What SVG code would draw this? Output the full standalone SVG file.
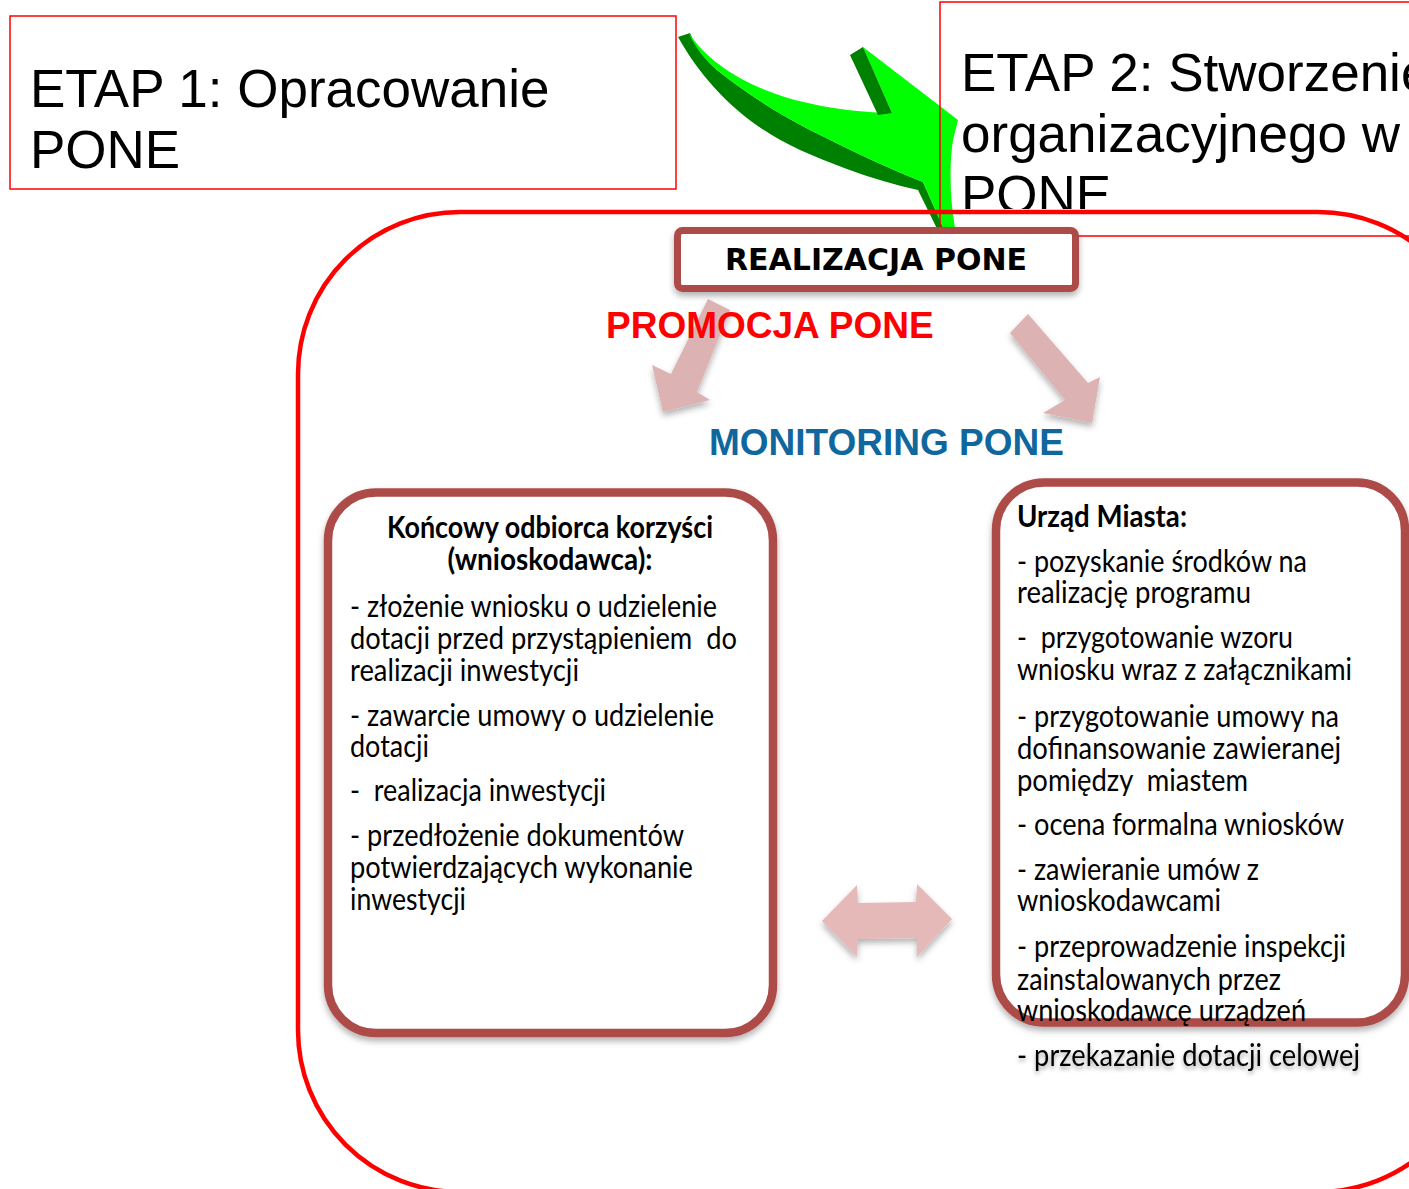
<svg xmlns="http://www.w3.org/2000/svg" width="1409" height="1189" viewBox="0 0 1409 1189">
<style>
.etap{font-family:"Liberation Sans",Arial,sans-serif;font-size:53px;fill:#000}
.body{font-family:Lato,"Open Sans",sans-serif;font-size:30px;fill:#000}
.bold{font-weight:bold}
.box{fill:#fff;stroke:#AD4B48;stroke-width:8.5}
.pink{fill:#DDB2B2}
</style>
<defs>
<filter id="sh" x="-10%" y="-10%" width="120%" height="130%">
<feDropShadow dx="0" dy="4" stdDeviation="3" flood-color="#000" flood-opacity="0.3"/>
</filter>
<filter id="tsh" x="-5%" y="-30%" width="110%" height="170%">
<feDropShadow dx="0" dy="3" stdDeviation="2" flood-color="#000" flood-opacity="0.35"/>
</filter>
<clipPath id="etap2clip"><rect x="940" y="0" width="469" height="209"/></clipPath>
</defs>
<rect width="1409" height="1189" fill="#fff"/>

<g id="etap1">
<rect x="10" y="16" width="666" height="173" fill="none" stroke="#FF0000" stroke-width="1.5"/>
<text class="etap" x="30" y="107">ETAP 1: Opracowanie</text>
<text class="etap" x="30" y="168">PONE</text>
</g>

<g id="connectors">
<g id="green-arrow">
<path fill="#008000" d="M678,37 C705,85 745,125 800,150 C840,168 885,183 918,190 L945,245 L952,245 L942,225 L923,182 C880,165 840,145 810,130 C775,112 745,92 717,70 C705,60 696,47 690,33 Z"/>
<path fill="#00FF00" d="M688,32 C720,80 790,110 892,113 L863,47 L958,120 L953,140 C949,165 950,200 955,228 L950,245 L942,225 L923,182 C880,165 840,145 810,130 C775,112 745,92 717,70 C705,60 695,47 688,32 Z"/>
<path fill="#008000" d="M850,55 L863,47 L892,113 L878,115 Z"/>
</g>
<polygon class="pink" filter="url(#sh)" points="708,299 730,310 697,392 710,400 663,412 652,365 671,374"/>
<polygon class="pink" filter="url(#sh)" points="1010,333 1028,314 1088,383 1100,377 1092,423 1043,413 1065,400"/>
<polygon fill="#E6B9B9" filter="url(#sh)" points="822,921 857,885 858,903 916,902 917,884 952,919 917,957 917,938 858,939 857,957"/>
</g>

<g id="frame">
<rect x="298" y="212" width="1182" height="980" rx="162" ry="162" fill="none" stroke="#FF0000" stroke-width="4.5"/>
</g>

<g id="etap2">
<g clip-path="url(#etap2clip)">
<text class="etap" x="961" y="91">ETAP 2: Stworzenie</text>
<text class="etap" x="961" y="152">organizacyjnego w</text>
<text class="etap" x="961" y="213">PONE</text>
</g>
<rect x="940" y="2" width="500" height="234" fill="none" stroke="#FF0000" stroke-width="1.5"/>
</g>

<g id="realizacja">
<rect x="677.5" y="230.5" width="398" height="58" rx="5" class="box" style="stroke-width:7" filter="url(#sh)"/>
<text x="876" y="270" text-anchor="middle" font-family="'DejaVu Sans',Verdana,sans-serif" font-weight="bold" font-size="30" fill="#000">REALIZACJA PONE</text>
</g>

<g id="promocja">
<text x="606" y="338" font-family="'Liberation Sans',Arial,sans-serif" font-weight="bold" font-size="37" fill="#FF0000">PROMOCJA PONE</text>
</g>

<g id="monitoring">
<text x="709" y="455" font-family="'Liberation Sans',Arial,sans-serif" font-weight="bold" font-size="37" fill="#0F679E">MONITORING PONE</text>
</g>

<g id="wnioskodawca">
<rect x="328" y="492.5" width="445" height="540.5" rx="48" class="box" filter="url(#sh)"/>
<text class="body bold" x="550" y="538" text-anchor="middle" textLength="326" lengthAdjust="spacingAndGlyphs">Końcowy odbiorca korzyści</text>
<text class="body bold" x="550" y="570" text-anchor="middle" textLength="205" lengthAdjust="spacingAndGlyphs">(wnioskodawca):</text>
<text class="body" x="350" y="617" textLength="367" lengthAdjust="spacingAndGlyphs">- złożenie wniosku o udzielenie</text>
<text class="body" x="350" y="649" textLength="387" lengthAdjust="spacingAndGlyphs" xml:space="preserve">dotacji przed przystąpieniem  do</text>
<text class="body" x="350" y="681" textLength="229" lengthAdjust="spacingAndGlyphs">realizacji inwestycji</text>
<text class="body" x="350" y="726" textLength="364" lengthAdjust="spacingAndGlyphs">- zawarcie umowy o udzielenie</text>
<text class="body" x="350" y="757" textLength="79" lengthAdjust="spacingAndGlyphs">dotacji</text>
<text class="body" x="350" y="801" textLength="256" lengthAdjust="spacingAndGlyphs" xml:space="preserve">-  realizacja inwestycji</text>
<text class="body" x="350" y="846" textLength="334" lengthAdjust="spacingAndGlyphs">- przedłożenie dokumentów</text>
<text class="body" x="350" y="878" textLength="343" lengthAdjust="spacingAndGlyphs">potwierdzających wykonanie</text>
<text class="body" x="350" y="910" textLength="116" lengthAdjust="spacingAndGlyphs">inwestycji</text>
</g>

<g id="urzad">
<rect x="996" y="482.5" width="409" height="540" rx="48" class="box" filter="url(#sh)"/>
<text class="body bold" x="1017" y="527" textLength="170" lengthAdjust="spacingAndGlyphs">Urząd Miasta:</text>
<text class="body" x="1017" y="572" textLength="290" lengthAdjust="spacingAndGlyphs">- pozyskanie środków na</text>
<text class="body" x="1017" y="603" textLength="234" lengthAdjust="spacingAndGlyphs">realizację programu</text>
<text class="body" x="1017" y="648" textLength="276" lengthAdjust="spacingAndGlyphs" xml:space="preserve">-  przygotowanie wzoru</text>
<text class="body" x="1017" y="680" textLength="335" lengthAdjust="spacingAndGlyphs">wniosku wraz z załącznikami</text>
<text class="body" x="1017" y="727" textLength="322" lengthAdjust="spacingAndGlyphs">- przygotowanie umowy na</text>
<text class="body" x="1017" y="759" textLength="324" lengthAdjust="spacingAndGlyphs">dofinansowanie zawieranej</text>
<text class="body" x="1017" y="791" textLength="231" lengthAdjust="spacingAndGlyphs" xml:space="preserve">pomiędzy  miastem</text>
<text class="body" x="1017" y="835" textLength="327" lengthAdjust="spacingAndGlyphs">- ocena formalna wniosków</text>
<text class="body" x="1017" y="880" textLength="242" lengthAdjust="spacingAndGlyphs">- zawieranie umów z</text>
<text class="body" x="1017" y="911" textLength="204" lengthAdjust="spacingAndGlyphs">wnioskodawcami</text>
<text class="body" x="1017" y="957" textLength="329" lengthAdjust="spacingAndGlyphs">- przeprowadzenie inspekcji</text>
<text class="body" x="1017" y="990" textLength="264" lengthAdjust="spacingAndGlyphs">zainstalowanych przez</text>
<text class="body" x="1017" y="1021" textLength="289" lengthAdjust="spacingAndGlyphs">wnioskodawcę urządzeń</text>
<text class="body" x="1017" y="1066" textLength="343" lengthAdjust="spacingAndGlyphs" filter="url(#tsh)">- przekazanie dotacji celowej</text>
</g>
</svg>
